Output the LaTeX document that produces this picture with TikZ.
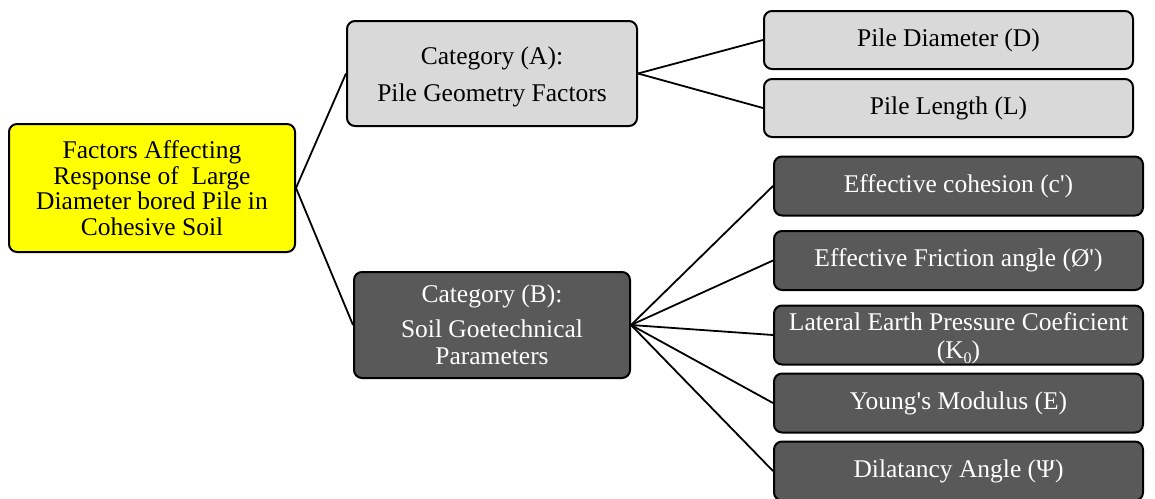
\documentclass[tikz,border=0pt]{standalone}
\usepackage{fontspec}
\setmainfont{Liberation Serif}
\definecolor{lightbox}{HTML}{D9D9D9}
\definecolor{darkbox}{HTML}{595959}
\definecolor{rootfill}{HTML}{FFFF00}
\begin{document}
\begin{tikzpicture}[x=1pt,y=-1pt,
  base/.style={draw=black, line width=2pt, rounded corners=8pt, align=center, inner sep=0pt,
    font=\fontsize{25.5}{25.5}\selectfont},
  rootbox/.style={base, fill=rootfill, minimum width=286pt, minimum height=128pt},
  catA/.style={base, fill=lightbox, minimum width=290pt, minimum height=105pt},
  catB/.style={base, fill=darkbox, text=white, minimum width=276pt, minimum height=106pt},
  leafA/.style={base, fill=lightbox, minimum width=369pt, minimum height=58pt},
  leafB/.style={base, fill=darkbox, text=white, minimum width=369pt, minimum height=59pt},
  link/.style={draw=black, line width=1.8pt}
]
\useasboundingbox (0,0) rectangle (1155,498);
\node[rootbox] (root) at (152,188) {Factors Affecting\\Response of~ Large\\Diameter bored Pile in\\Cohesive Soil};
\node[catA] (ca) at (492,73.5) {\rule{0pt}{24pt}Category (A):\\[11.5pt]Pile Geometry Factors};
\node[catB] (cb) at (492,325) {Category (B):\\[9pt]Soil Goetechnical\\[1.5pt]Parameters};
\node[leafA] (d) at (948.5,40) {Pile Diameter (D)};
\node[leafA] (l) at (948.5,108) {Pile Length (L)};
\node[leafB] (c) at (958.5,186) {Effective cohesion (c\textquotesingle)};
\node[leafB] (f) at (958.5,260.5) {Effective Friction angle (Ø\textquotesingle)};
\node[leafB] (k) at (958.5,335) {\rule{0pt}{24pt}Lateral Earth Pressure Coeficient\\[2pt](K\raisebox{-5pt}{\fontsize{16}{16}\selectfont 0})};
\node[leafB] (e) at (958.5,403) {Young\textquotesingle s Modulus (E)};
\node[leafB] (p) at (958.5,471) {Dilatancy Angle (Ψ)};
\draw[link] (root.east) -- (ca.west);
\draw[link] (root.east) -- (cb.west);
\draw[link] (ca.east) -- (d.west);
\draw[link] (ca.east) -- (l.west);
\foreach \n in {c,f,k,e,p} \draw[link] (cb.east) -- (\n.west);
\end{tikzpicture}
\end{document}
